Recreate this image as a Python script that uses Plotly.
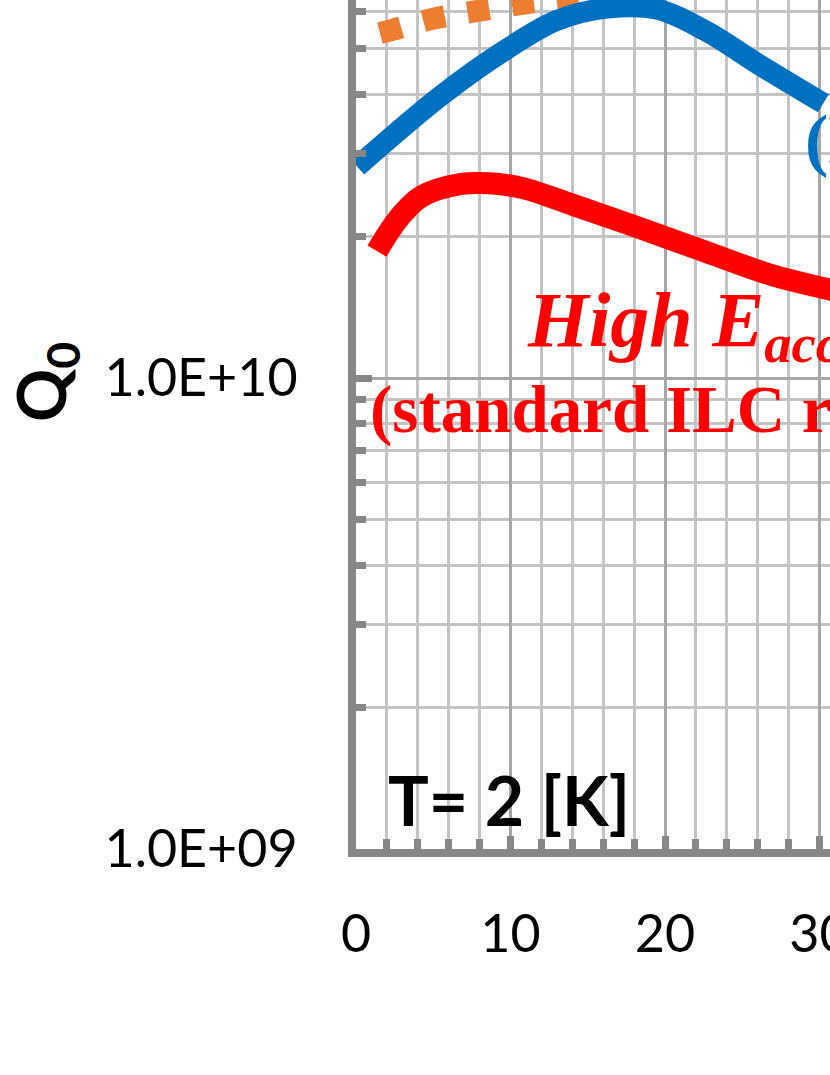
import plotly.graph_objects as go

# Q0 vs Eacc at T = 2 K
eacc_ilc = [1.36, 2.2, 3.05, 4.25, 6.73, 8.67, 10.8, 14.07, 18.38, 22.7, 27.0, 30.68, 32.0]
q0_ilc = [1.86e10, 2.06e10, 2.24e10, 2.43e10, 2.58e10, 2.59e10, 2.53e10,
          2.33e10, 2.08e10, 1.85e10, 1.65e10, 1.54e10, 1.50e10]

eacc_doped = [0.08, 5.44, 9.75, 12.99, 16.23, 19.46, 22.7, 25.94, 30.25]
q0_doped = [2.81e10, 3.96e10, 4.99e10, 5.74e10, 6.10e10, 6.07e10, 5.44e10, 4.66e10, 3.83e10]

eacc_goal = [1.55, 2.3, 5.2, 8.2, 11.1, 13.9, 18.0]
q0_goal = [5.40e10, 5.48e10, 5.81e10, 6.04e10, 6.25e10, 6.44e10, 6.65e10]

x_ticks = [0, 10, 20, 30]
y_ticks = [1e9, 1e10]
y_tick_text = ["1.0E+09", "1.0E+10"]

# plot area in pixels (figure is 830 x 1075)
W, H = 830, 1075
L, B = 356, 849
T_TOP, R = 0, 0


def px(x, y):
    """pixel position -> paper coordinates of the plot area"""
    return (x - L) / (W - R - L), (B - y) / (B - T_TOP)


fig = go.Figure()

fig.add_trace(go.Scatter(
    x=eacc_goal, y=q0_goal, mode="lines",
    line=dict(color="#ED7D31", width=22, dash="22px,23px", shape="spline"),
))
fig.add_trace(go.Scatter(
    x=eacc_doped, y=q0_doped, mode="lines",
    line=dict(color="#0070C0", width=21, shape="spline"),
))
fig.add_trace(go.Scatter(
    x=eacc_ilc, y=q0_ilc, mode="lines",
    line=dict(color="#FF0000", width=22, shape="spline"),
))

red_font = dict(family="Liberation Serif", size=67, color="#FF0000")
annots = [
    dict(pos=(525, 325), text="<b><i>High E<sub>acc</sub></i></b>",
         font=dict(family="Liberation Serif", size=78, color="#FF0000")),
    dict(pos=(368, 409), text="<b>(standard ILC recipe)</b>", font=red_font),
    dict(pos=(803, 140), text="<b>(N-doping)</b>",
         font=dict(family="Liberation Serif", size=70, color="#0070C0")),
    dict(pos=(386, 799), text="<b>T= 2 [K]</b>",
         font=dict(family="Lato", size=68, color="black")),
]
for a in annots:
    ax, ay = px(*a["pos"])
    fig.add_annotation(x=ax, y=ay, xref="paper", yref="paper", text=a["text"],
                       showarrow=False, xanchor="left", yanchor="middle",
                       font=a["font"])

qx, qy = px(45, 382)
fig.add_annotation(x=qx, y=qy, xref="paper", yref="paper", text="<b>Q<sub>0</sub></b>",
                   showarrow=False, textangle=-90, xanchor="center", yanchor="middle",
                   font=dict(family="Lato", size=66, color="black"))

axis_common = dict(
    showline=True, linecolor="#878787", linewidth=8,
    ticks="inside", tickcolor="#878787", tickwidth=7,
    tickfont=dict(family="Lato", size=52, color="black"),
    ticklabeloverflow="allow",
    gridcolor="#a6a6a6", gridwidth=2.5, zeroline=False,
)

fig.update_xaxes(
    range=[0, (W - R - L) / 15.45], tickmode="array", tickvals=x_ticks,
    ticklen=13, ticklabelstandoff=33,
    minor=dict(dtick=2, ticks="inside", ticklen=10, tickwidth=7, tickcolor="#878787",
               showgrid=True, gridcolor="#c4c4c4", gridwidth=2.5),
    **axis_common,
)
fig.update_yaxes(
    type="log", range=[9, 10 + (378 - T_TOP) / 471], tickmode="array",
    tickvals=y_ticks, ticktext=y_tick_text, ticklen=16, ticklabelstandoff=40,
    minor=dict(dtick="D1", ticks="inside", ticklen=10, tickwidth=7, tickcolor="#878787",
               showgrid=True, gridcolor="#c4c4c4", gridwidth=2.5),
    **axis_common,
)

fig.update_layout(
    width=W, height=H, showlegend=False,
    margin=dict(l=L, r=R, t=T_TOP, b=H - B, pad=0, autoexpand=False),
    plot_bgcolor="white", paper_bgcolor="white",
)

# the page's default body margin would shift the figure by 8 px
fig.write_html("out.html", config={"displayModeBar": False},
               post_script="document.body.style.margin = '0';")
